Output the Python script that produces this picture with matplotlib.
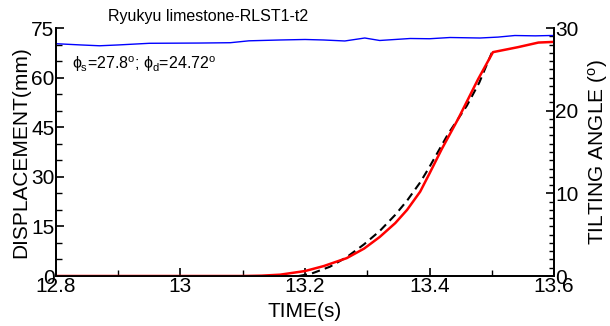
import matplotlib
matplotlib.use("Agg")
import matplotlib.pyplot as plt
from matplotlib.ticker import MultipleLocator

plt.rcParams['font.family'] = ['Liberation Sans', 'DejaVu Sans']
plt.rcParams['mathtext.fontset'] = 'custom'
plt.rcParams['mathtext.rm'] = 'Liberation Sans'
plt.rcParams['mathtext.it'] = 'Liberation Sans'

# Tilting angle (right axis)
angle_t = [12.80, 12.84, 12.87, 12.90, 12.95, 13.03, 13.08, 13.11, 13.16, 13.20,
           13.23, 13.264, 13.296, 13.32, 13.369, 13.40, 13.433, 13.481, 13.51,
           13.537, 13.57, 13.594, 13.60]
angle_v = [28.10, 27.95, 27.85, 27.95, 28.15, 28.18, 28.22, 28.45, 28.55, 28.61,
           28.55, 28.43, 28.79, 28.49, 28.73, 28.70, 28.85, 28.79, 28.90,
           29.09, 29.05, 29.09, 29.09]

# Measured displacement (left axis)
disp_t = [12.80, 13.10, 13.13, 13.16, 13.20, 13.23, 13.267, 13.295, 13.32, 13.345,
          13.364, 13.385, 13.40, 13.42, 13.446, 13.478, 13.502, 13.542, 13.575, 13.60]
disp_v = [0.0, 0.0, 0.1, 0.4, 1.5, 3.0, 5.4, 8.3, 11.8, 16.0,
          20.0, 25.5, 31.0, 38.5, 47.5, 59.5, 67.7, 69.2, 70.6, 70.8]

# Fitted displacement (dashed)
fit_t = [13.19, 13.21, 13.24, 13.267, 13.295, 13.32, 13.345, 13.364, 13.385, 13.40,
         13.43, 13.46, 13.48, 13.50]
fit_v = [0.0, 0.7, 2.8, 5.7, 9.6, 13.6, 18.5, 22.8, 28.3, 33.0,
         43.0, 51.5, 58.5, 67.5]

fig = plt.figure(figsize=(6.1, 3.26), dpi=100)
ax = fig.add_axes([56/610, 50/326, (554-56)/610, (276-28)/326])
ax2 = ax.twinx()

ax.plot(fit_t, fit_v, color='black', lw=1.5, ls=(0, (4, 2.5)), zorder=3)
ax.plot(disp_t, disp_v, color='#ff0000', lw=1.8, zorder=4)
ax2.plot(angle_t, angle_v, color='#0000ff', lw=1.0)

ax.set_xlim(12.8, 13.6)
ax.set_ylim(0, 75)
ax2.set_ylim(0, 30)

ax.xaxis.set_minor_locator(MultipleLocator(0.1))
ax.yaxis.set_major_locator(MultipleLocator(15))
ax.yaxis.set_minor_locator(MultipleLocator(5))
ax2.yaxis.set_major_locator(MultipleLocator(10))
ax2.yaxis.set_minor_locator(MultipleLocator(1))

ax.set_xticks([12.8, 13.0, 13.2, 13.4, 13.6])
ax.set_xticklabels(['12.8', '13', '13.2', '13.4', '13.6'])

for a in (ax, ax2):
    a.spines['top'].set_visible(False)
    for s in a.spines.values():
        s.set_linewidth(1.3)
ax.tick_params(axis='both', which='major', direction='in', length=6, width=1.2,
               labelsize=15, pad=1)
ax.tick_params(axis='both', which='minor', direction='in', length=4, width=1.0)
ax2.tick_params(axis='y', which='major', direction='in', length=6, width=1.2,
                labelsize=15, pad=1)
ax2.tick_params(axis='y', which='minor', direction='in', length=3.5, width=1.0)

ax.set_xlabel('TIME(s)', fontsize=15, labelpad=4)
ax.set_ylabel('DISPLACEMENT(mm)', fontsize=15, labelpad=1)
ax2.set_ylabel(r'TILTING ANGLE ($^o$)', fontsize=15, labelpad=5)

fig.text(108/610, 1 - 16/326, 'Ryukyu limestone-RLST1-t2', fontsize=11.5,
         ha='left', va='center')
ax.text(0.033, 0.855, r'$\phi_s$=27.8$^o$; $\phi_d$=24.72$^o$', fontsize=11.5,
        transform=ax.transAxes, ha='left', va='center')

fig.savefig('out.png', dpi=100)
